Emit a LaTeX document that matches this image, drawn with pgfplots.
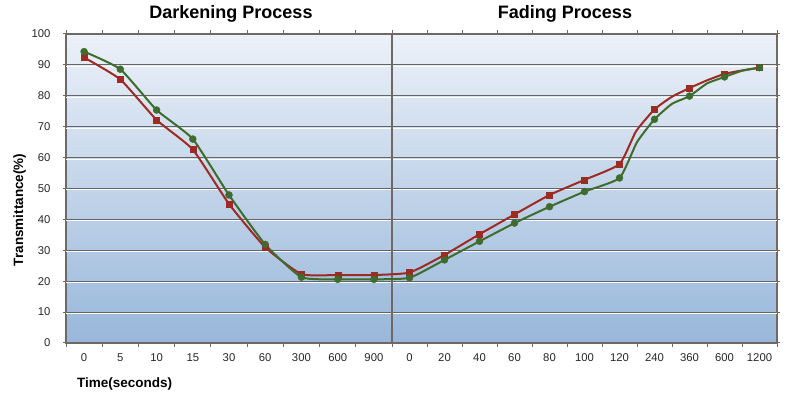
\documentclass[border=0pt]{standalone}
\usepackage{fontspec}
\setmainfont{Liberation Sans}
\usepackage{pgfplots}
\pgfplotsset{compat=1.18}
\definecolor{redS}{RGB}{158,42,36}
\definecolor{greenS}{RGB}{62,108,44}
\definecolor{bgtop}{RGB}{236,241,249}
\definecolor{bgbot}{RGB}{152,183,218}
\definecolor{gridc}{RGB}{100,100,100}
\definecolor{framec}{RGB}{112,104,98}
\begin{document}
\begin{tikzpicture}[x=1pt,y=1pt]
\useasboundingbox (0,0) rectangle (800,393);
\begin{axis}[
  at={(66pt,50pt)}, anchor=south west,
  scale only axis, width=711pt, height=309pt,
  xmin=0, xmax=711, ymin=0, ymax=100,
  axis background/.style={top color=bgtop, bottom color=bgbot},
  axis line style={framec, line width=1.3pt},
  ytick={0,10,...,100},
  ymajorgrids, grid style={gridc, line width=1pt},
  xtick={18.1,54.3,90.6,126.8,163.0,199.2,235.4,271.7,307.9,343.5,378.5,413.5,448.5,483.5,518.5,553.5,588.5,623.5,658.5,693.5},
  xticklabels={0,5,10,15,30,60,300,600,900,0,20,40,60,80,100,120,240,360,600,1200},
  minor xtick={0,36.22,72.44,108.67,144.89,181.11,217.33,253.56,289.78,326,361,396,431,466,501,536,571,606,641,676,711},
  tick align=outside,
  major tick length=3pt,
  minor tick length=4pt,
  major x tick style={draw=none},
  minor x tick style={framec, line width=1pt},
  ytick style={framec, line width=1pt},
  tick label style={font=\fontsize{11.3}{13}\selectfont, text=black!85},
  /pgf/number format/assume math mode=true,
  xticklabel style={anchor=center, yshift=-12pt},
  yticklabel style={anchor=east, xshift=-9pt},
]
\pgfplotsinvokeforeach{10,20,...,90}{
  \draw[white, line width=0.9pt] ([yshift=-1.4pt]axis cs:0,#1) -- ([yshift=-1.4pt]axis cs:711,#1);
}
\draw[framec, line width=1.3pt] (axis cs:326,0) -- (axis cs:326,100);
% red series line (with unmarked intermediate points)
\addplot[redS, line width=2pt, smooth, tension=0.3] coordinates {
(18.1,92.4) (54.3,85.3) (90.6,72.2) (126.8,62.6) (163.0,45.0) (199.2,31.0) (235.4,22.3) (271.7,22.0) (307.9,22.0)
(343.5,22.8) (378.5,28.5) (413.5,35.2) (448.5,41.6) (483.5,47.9) (518.5,52.8) (553.5,57.9) (570,68.5) (588.5,75.6)
(606,79.7) (623.5,82.5) (641,85.0) (658.5,87.1) (676,88.2) (693.5,89.1)
};
\addplot[only marks, mark=square*, mark size=3pt, color=redS] coordinates {
(18.1,92.4) (54.3,85.3) (90.6,72.2) (126.8,62.6) (163.0,45.0) (199.2,31.0) (235.4,22.3) (271.7,22.0) (307.9,22.0)
(343.5,22.8) (378.5,28.5) (413.5,35.2) (448.5,41.6) (483.5,47.9) (518.5,52.8) (553.5,57.9) (588.5,75.6)
(623.5,82.5) (658.5,87.1) (693.5,89.1)
};
% green series
\addplot[greenS, line width=2pt, smooth, tension=0.3] coordinates {
(18.1,94.3) (54.3,88.6) (90.6,75.4) (126.8,66.0) (163.0,47.9) (199.2,31.9) (235.4,21.3) (271.7,20.6) (307.9,20.6)
(343.5,21.1) (378.5,26.9) (413.5,32.9) (448.5,38.8) (483.5,44.1) (518.5,49.0) (553.5,53.4) (571,65.0) (588.5,72.4)
(606,77.4) (623.5,79.9) (641,84.0) (658.5,86.1) (676,88.1) (693.5,89.1)
};
\addplot[only marks, mark=*, mark size=3.5pt, color=greenS] coordinates {
(18.1,94.3) (54.3,88.6) (90.6,75.4) (126.8,66.0) (163.0,47.9) (199.2,31.9) (235.4,21.3) (271.7,20.6) (307.9,20.6)
(343.5,21.1) (378.5,26.9) (413.5,32.9) (448.5,38.8) (483.5,44.1) (518.5,49.0) (553.5,53.4) (588.5,72.4)
(623.5,79.9) (658.5,86.1) (693.5,89.1)
};
\end{axis}
\node[font=\bfseries\fontsize{18}{20}\selectfont, anchor=base] at (231,374) {Darkening Process};
\node[font=\bfseries\fontsize{18}{20}\selectfont, anchor=base] at (565,374) {Fading Process};
\node[font=\bfseries\fontsize{13.5}{15}\selectfont, anchor=base west, inner sep=0pt] at (77,5.5) {Time(seconds)};
\node[font=\bfseries\fontsize{13.5}{15}\selectfont, anchor=base, rotate=90, inner sep=0pt] at (23,183) {Transmittance(\%)};
\end{tikzpicture}
\end{document}
